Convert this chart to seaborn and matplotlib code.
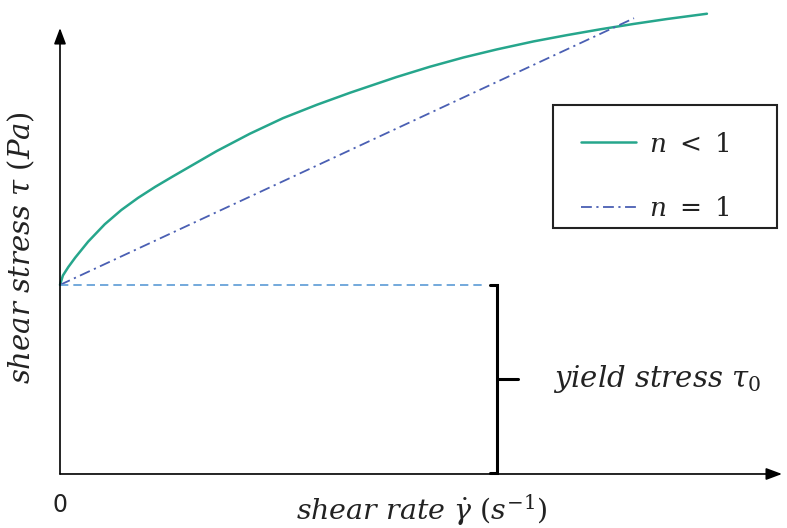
import numpy as np
import pandas as pd
import matplotlib
matplotlib.use('Agg')
import matplotlib.pyplot as plt
from matplotlib.patches import Rectangle
import seaborn as sns

# values (arbitrary units, axis length = 10)
yield_stress = 4.24
shear_thin_rate = [0.0, 0.04, 0.115, 0.21, 0.39, 0.62, 0.85, 1.08, 1.32, 1.55, 2.17, 2.63,
                   3.09, 3.56, 4.02, 4.66, 5.12, 5.59, 6.05, 6.56, 7.02, 7.48, 7.94, 8.40, 8.96]
shear_thin_stress = [4.24, 4.45, 4.64, 4.85, 5.21, 5.60, 5.92, 6.19, 6.44, 6.66, 7.24, 7.63,
                     7.98, 8.28, 8.55, 8.90, 9.13, 9.34, 9.52, 9.70, 9.84, 9.97, 10.09, 10.20, 10.32]
bingham_rate = [0.0, 7.95]
bingham_stress = [4.24, 10.22]
yield_line_end = 5.86
bracket_x = 6.05

labels = [r'$n\ <\ 1$', r'$n\ =\ 1$']
x_label = r'$shear\ rate\ \dot{\gamma}\ (s^{-1})$'
y_label = r'$shear\ stress\ \tau\ (Pa)$'
yield_label = r'$yield\ stress\ \tau_0$'

teal = '#26a68c'
navy = '#4a5fb3'
light_blue = '#5b9bd5'

sns.set_theme(style='white')
plt.rcParams['mathtext.fontset'] = 'dejavuserif'
plt.rcParams['font.family'] = ['DejaVu Sans']

fig = plt.figure(figsize=(7.87, 5.28), dpi=100)
ax = fig.add_axes([0, 0, 1, 1])

df_thin = pd.DataFrame({'rate': shear_thin_rate, 'stress': shear_thin_stress})
df_bing = pd.DataFrame({'rate': bingham_rate, 'stress': bingham_stress})

sns.lineplot(data=df_thin, x='rate', y='stress', sort=False, color=teal, lw=1.8, label=labels[0], ax=ax)
sns.lineplot(data=df_bing, x='rate', y='stress', sort=False, color=navy, lw=1.3,
             linestyle=(0, (6, 2.5, 1.2, 2.5)), label=labels[1], ax=ax)

# yield stress level
ax.plot([0, yield_line_end], [yield_stress, yield_stress], color=light_blue, lw=1.2,
        linestyle=(0, (5, 3)))

# bracket marking the yield stress
mid = yield_stress / 2
ax.plot([bracket_x - 0.1, bracket_x, bracket_x, bracket_x - 0.1],
        [yield_stress, yield_stress, 0.03, 0.03], color='black', lw=2.2, solid_joinstyle='miter')
ax.plot([bracket_x, bracket_x + 0.29], [mid, mid], color='black', lw=2.2)
ax.text(bracket_x + 0.78, mid, yield_label, fontsize=21, va='center', ha='left', color='#222222')

# axes with arrows
ax.annotate('', xy=(10.0, 0), xytext=(0, 0),
            arrowprops=dict(arrowstyle='-|>,head_length=0.8,head_width=0.3', color='black', lw=1.2, shrinkA=0, shrinkB=0))
ax.annotate('', xy=(0, 10.0), xytext=(0, 0),
            arrowprops=dict(arrowstyle='-|>,head_length=0.8,head_width=0.3', color='black', lw=1.2, shrinkA=0, shrinkB=0))

ax.text(0, -0.7, '0', fontsize=17, ha='center', va='center', color='#222222')
ax.text(5.01, -0.8, x_label, fontsize=20.5, ha='center', va='center', color='#222222')
ax.text(-0.53, 5.08, y_label, fontsize=21, ha='center', va='center', rotation=90, color='#222222')

ax.set_xlim(-0.831, 10.069)
ax.set_ylim(-1.211, 10.628)
ax.axis('off')

# legend entries, with a hand-placed frame around them
leg = ax.legend(loc='center left', bbox_to_anchor=(581 / 787, 1 - 177 / 528), fontsize=19,
                frameon=False, handlelength=2.08, handletextpad=0.5, labelspacing=1.47,
                borderpad=0, borderaxespad=0)
for t in leg.get_texts():
    t.set_color('#222222')
fig.patches.append(Rectangle((553 / 787, 1 - 228 / 528), 224 / 787, 123 / 528,
                             transform=fig.transFigure, fill=False, edgecolor='#222222', lw=1.5))

fig.savefig('out.png', dpi=100)
